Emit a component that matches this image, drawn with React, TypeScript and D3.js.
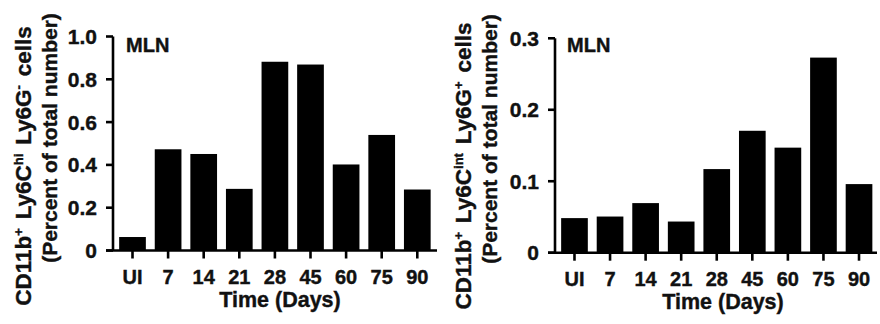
import React from "react";
import * as d3 from "d3";

const categories = ["UI", "7", "14", "21", "28", "45", "60", "75", "90"];
const hiValues = [0.063, 0.473, 0.451, 0.288, 0.882, 0.869, 0.402, 0.54, 0.285];
const intValues = [0.0484, 0.0506, 0.0694, 0.0436, 0.117, 0.1706, 0.147, 0.273, 0.096];
const hiTicks = [0, 0.2, 0.4, 0.6, 0.8, 1.0];
const hiTickLabels = ["0", "0.2", "0.4", "0.6", "0.8", "1.0"];
const intTicks = [0, 0.1, 0.2, 0.3];
const intTickLabels = ["0", "0.1", "0.2", "0.3"];

const font = "'Liberation Sans', Arial, sans-serif";
const ink = "#111";

type PanelProps = {
  values: number[];
  ticks: number[];
  tickLabels: string[];
  yMax: number;
  axisX: number;
  y0: number;
  y1: number;
  bandRange: [number, number];
  axisEnd: number;
  sup1: string;
  sup2: string;
  sup3: string;
  label1X: number;
  label1Y: number;
  label2X: number;
  label2Y: number;
  titleX: number;
  mlnX: number;
};

function Panel(p: PanelProps) {
  const x = d3.scaleBand<string>().domain(categories).range(p.bandRange).paddingInner(0.25).paddingOuter(0.125);
  const y = d3.scaleLinear().domain([0, p.yMax]).range([p.y0, p.y1]);
  const tickLen = 7;
  const sw = 2.6;
  const textStroke = { stroke: ink, strokeWidth: 0.4 };
  return (
    <g>
      {categories.map((c, i) => (
        <rect key={c} x={x(c)} y={y(p.values[i])} width={x.bandwidth()} height={y(0) - y(p.values[i])} fill="#000" />
      ))}
      <line x1={p.axisX} x2={p.axisX} y1={y(p.yMax)} y2={y(0)} stroke="#000" strokeWidth={sw} />
      {p.ticks.map((t, i) => (
        <g key={i}>
          <line x1={p.axisX - tickLen} x2={p.axisX} y1={y(t)} y2={y(t)} stroke="#000" strokeWidth={sw} />
          <text x={p.axisX - 16} y={y(t)} dy="0.36em" textAnchor="end" fontFamily={font} fontWeight="bold" fontSize={21} fill={ink} {...textStroke}>
            {p.tickLabels[i]}
          </text>
        </g>
      ))}
      <line x1={p.axisX - tickLen} x2={p.axisEnd} y1={y(0)} y2={y(0)} stroke="#000" strokeWidth={sw} />
      {categories.map((c) => {
        const cx = (x(c) as number) + x.bandwidth() / 2;
        return (
          <g key={c}>
            <line x1={cx} x2={cx} y1={y(0)} y2={y(0) + 8} stroke="#000" strokeWidth={sw} />
            <text x={cx} y={y(0) + 33} textAnchor="middle" fontFamily={font} fontWeight="bold" fontSize={20} fill={ink} {...textStroke}>
              {c}
            </text>
          </g>
        );
      })}
      <text x={p.titleX} y={y(0) + 56} textAnchor="middle" fontFamily={font} fontWeight="bold" fontSize={21.5} fill={ink} {...textStroke}>
        Time (Days)
      </text>
      <text x={p.mlnX} y={52} fontFamily={font} fontWeight="bold" fontSize={20} fill={ink} {...textStroke}>
        MLN
      </text>
      <text
        transform={`translate(${p.label1X},${p.label1Y}) rotate(-90)`}
        textAnchor="middle"
        fontFamily={font}
        fontWeight="bold"
        fontSize={22.5}
        fill={ink}
        wordSpacing={2.5}
        {...textStroke}
      >
        CD11b<tspan fontSize={13} dy={-8}>{p.sup1}</tspan>
        <tspan dy={8}> Ly6C</tspan>
        <tspan fontSize={13} dy={-8}>{p.sup2}</tspan>
        <tspan dy={8}> Ly6G</tspan>
        <tspan fontSize={13} dy={-8}>{p.sup3}</tspan>
        <tspan dy={8}> cells</tspan>
      </text>
      <text
        transform={`translate(${p.label2X},${p.label2Y}) rotate(-90)`}
        textAnchor="middle"
        fontFamily={font}
        fontWeight="bold"
        fontSize={21}
        fill={ink}
        {...textStroke}
      >
        (Percent of total number)
      </text>
    </g>
  );
}

export default function App() {
  return (
    <svg width={880} height={324} style={{ position: "absolute", left: 0, top: 0, background: "#fff" }}>
      <Panel
        values={hiValues}
        ticks={hiTicks}
        tickLabels={hiTickLabels}
        yMax={1.0}
        axisX={113}
        y0={250.5}
        y1={36.5}
        bandRange={[114.7, 435.1]}
        axisEnd={437}
        sup1="+"
        sup2="hi"
        sup3="-"
        label1X={31}
        label1Y={166}
        label2X={57}
        label2Y={138}
        titleX={280}
        mlnX={126}
      />
      <Panel
        values={intValues}
        ticks={intTicks}
        tickLabels={intTickLabels}
        yMax={0.3}
        axisX={555}
        y0={252.7}
        y1={38.3}
        bandRange={[556.7, 876.8]}
        axisEnd={877}
        sup1="+"
        sup2="int"
        sup3="+"
        label1X={471}
        label1Y={166}
        label2X={497}
        label2Y={139}
        titleX={723}
        mlnX={567}
      />
    </svg>
  );
}
